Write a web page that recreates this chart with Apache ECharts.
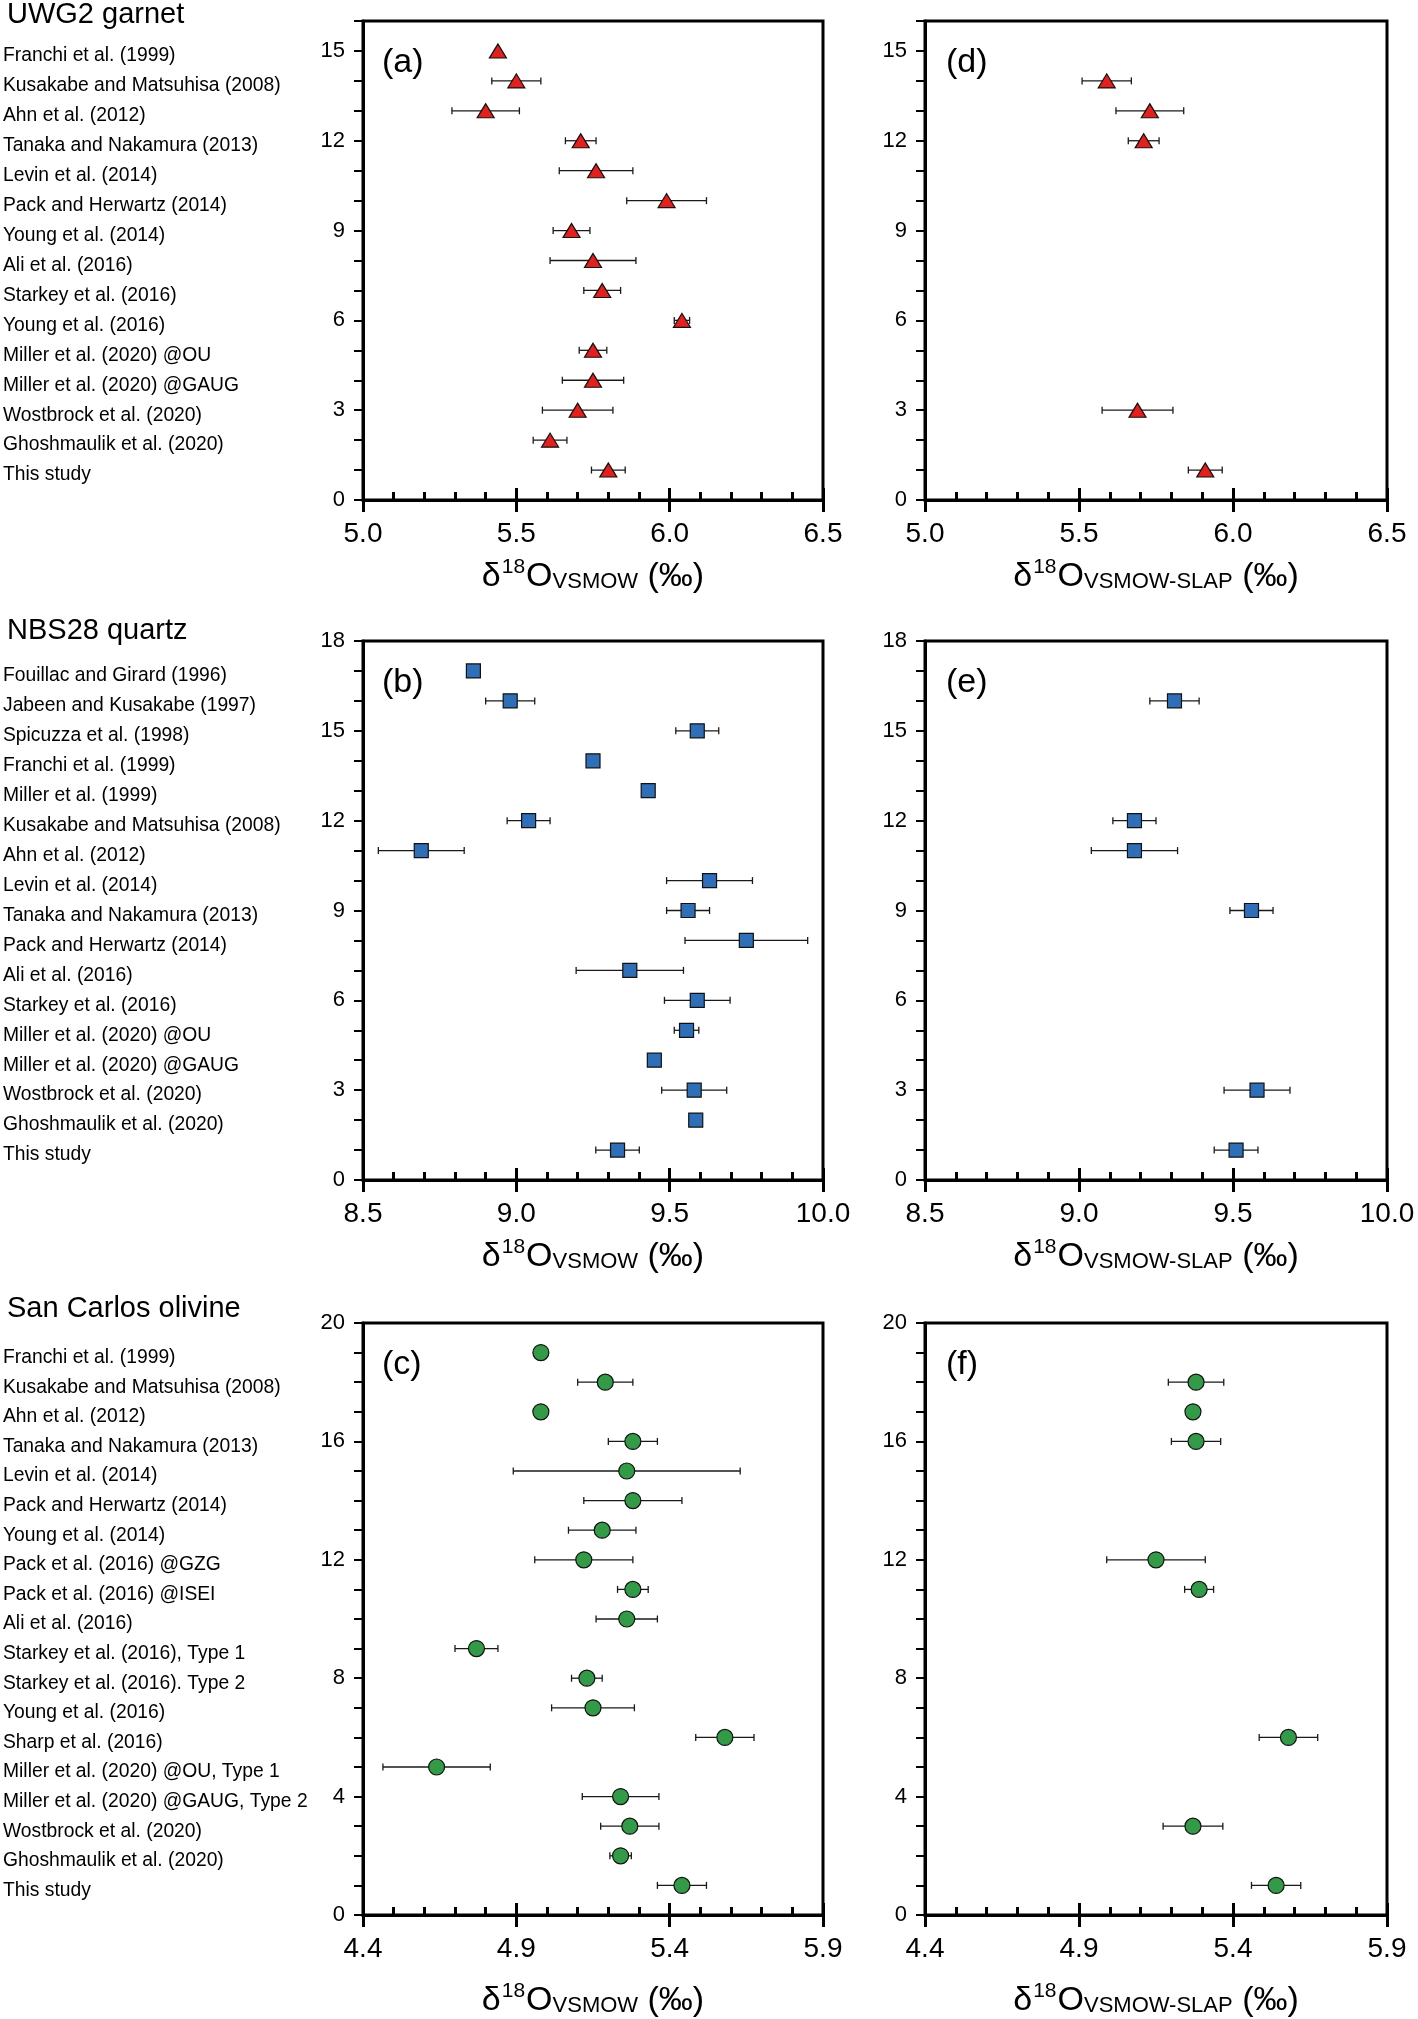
<!DOCTYPE html>
<html>
<head>
<meta charset="utf-8">
<script src="https://cdn.jsdelivr.net/npm/echarts@6/dist/echarts.min.js"></script>
<style>
html,body{margin:0;padding:0;background:#fff;}
#chart{width:1418px;height:2019px;}
</style>
</head>
<body>
<div id="chart"></div>
<script>
// ---------------- DATA ----------------
const garnetNames = [
  "Franchi et al. (1999)", "Kusakabe and Matsuhisa (2008)", "Ahn et al. (2012)",
  "Tanaka and Nakamura (2013)", "Levin et al. (2014)", "Pack and Herwartz (2014)",
  "Young et al. (2014)", "Ali et al. (2016)", "Starkey et al. (2016)", "Young et al. (2016)",
  "Miller et al. (2020) @OU", "Miller et al. (2020) @GAUG", "Wostbrock et al. (2020)",
  "Ghoshmaulik et al. (2020)", "This study"
];
const garnetVsmow    = [5.44, 5.50, 5.40, 5.71, 5.76, 5.99, 5.68, 5.75, 5.78, 6.04, 5.75, 5.75, 5.70, 5.61, 5.80];
const garnetVsmowErr = [0, 0.08, 0.11, 0.05, 0.12, 0.13, 0.06, 0.14, 0.06, 0.025, 0.045, 0.10, 0.115, 0.055, 0.055];
const garnetSlap     = [null, 5.59, 5.73, 5.71, null, null, null, null, null, null, null, null, 5.69, null, 5.91];
const garnetSlapErr  = [null, 0.08, 0.11, 0.05, null, null, null, null, null, null, null, null, 0.115, null, 0.055];

const quartzNames = [
  "Fouillac and Girard (1996)", "Jabeen and Kusakabe (1997)", "Spicuzza et al. (1998)",
  "Franchi et al. (1999)", "Miller et al. (1999)", "Kusakabe and Matsuhisa (2008)",
  "Ahn et al. (2012)", "Levin et al. (2014)", "Tanaka and Nakamura (2013)",
  "Pack and Herwartz (2014)", "Ali et al. (2016)", "Starkey et al. (2016)",
  "Miller et al. (2020) @OU", "Miller et al. (2020) @GAUG", "Wostbrock et al. (2020)",
  "Ghoshmaulik et al. (2020)", "This study"
];
const quartzVsmow    = [8.86, 8.98, 9.59, 9.25, 9.43, 9.04, 8.69, 9.63, 9.56, 9.75, 9.37, 9.59, 9.555, 9.45, 9.58, 9.585, 9.33];
const quartzVsmowErr = [0, 0.08, 0.07, 0, 0, 0.07, 0.14, 0.14, 0.07, 0.20, 0.175, 0.107, 0.04, 0, 0.106, 0, 0.071];
const quartzSlap     = [null, 9.31, null, null, null, 9.18, 9.18, null, 9.56, null, null, null, null, null, 9.578, null, 9.51];
const quartzSlapErr  = [null, 0.08, null, null, null, 0.07, 0.14, null, 0.07, null, null, null, null, null, 0.107, null, 0.071];

const olivineNames = [
  "Franchi et al. (1999)", "Kusakabe and Matsuhisa (2008)", "Ahn et al. (2012)",
  "Tanaka and Nakamura (2013)", "Levin et al. (2014)", "Pack and Herwartz (2014)",
  "Young et al. (2014)", "Pack et al. (2016) @GZG", "Pack et al. (2016) @ISEI",
  "Ali et al. (2016)", "Starkey et al. (2016), Type 1", "Starkey et al. (2016). Type 2",
  "Young et al. (2016)", "Sharp et al. (2016)", "Miller et al. (2020) @OU, Type 1",
  "Miller et al. (2020) @GAUG, Type 2", "Wostbrock et al. (2020)", "Ghoshmaulik et al. (2020)",
  "This study"
];
const olivineVsmow    = [4.98, 5.19, 4.98, 5.28, 5.26, 5.28, 5.18, 5.12, 5.28, 5.26, 4.77, 5.13, 5.15, 5.58, 4.64, 5.24, 5.27, 5.24, 5.44];
const olivineVsmowErr = [0, 0.09, 0, 0.08, 0.37, 0.16, 0.11, 0.16, 0.05, 0.10, 0.07, 0.05, 0.135, 0.095, 0.175, 0.125, 0.095, 0.035, 0.08];
const olivineSlap     = [null, 5.28, 5.27, 5.28, null, null, null, 5.15, 5.29, null, null, null, null, 5.58, null, null, 5.27, null, 5.54];
const olivineSlapErr  = [null, 0.09, 0, 0.08, null, null, null, 0.16, 0.047, null, null, null, null, 0.095, null, null, 0.097, null, 0.08];

const xTicksGarnet  = [5.0, 6.5];
const xTicksQuartz  = [8.5, 10.0];
const xTicksOlivine = [4.4, 5.9];

// ---------------- BUILD ----------------
const FONT = '"Liberation Sans", Arial, Helvetica, sans-serif';
const chart = echarts.init(document.getElementById('chart'), null, {renderer: 'canvas'});

const grids = [], xAxes = [], yAxes = [], series = [], titles = [];

function axisName(sub) {
  return '{a|δ}{s|18}{a|O}{b|' + sub + '}{a| (‰)}';
}
const nameRich = {
  a: {fontSize: 34, fontFamily: FONT, color: '#000'},
  s: {fontSize: 21, fontFamily: FONT, color: '#000', padding: [0, 1, 19, 1]},
  b: {fontSize: 22, fontFamily: FONT, color: '#000', padding: [9, 0, 0, 0]}
};

function addPanel(opt) {
  const gi = grids.length;
  grids.push({left: opt.left, top: opt.top, width: 462, height: opt.height,
    show: true, borderColor: '#000', borderWidth: 3, backgroundColor: 'transparent'});
  const xi = xAxes.length;
  xAxes.push({
    gridIndex: gi, type: 'value', position: 'bottom',
    min: opt.xr[0], max: opt.xr[1], interval: 0.5,
    axisLine: {show: true, onZero: false, lineStyle: {color: '#000', width: 3}},
    axisTick: {show: true, length: 12, lineStyle: {color: '#000', width: 3}},
    minorTick: {show: false},
    splitLine: {show: false},
    axisLabel: {fontSize: 28, fontFamily: FONT, color: '#000', margin: 20,
      formatter: v => v.toFixed(1)},
    name: axisName(opt.sub), nameLocation: 'middle', nameGap: opt.nameGap,
    nameTextStyle: {rich: nameRich}
  });
  xAxes.push({
    gridIndex: gi, type: 'value', position: 'bottom',
    min: opt.xr[0], max: opt.xr[1], interval: 0.5,
    axisLine: {show: false},
    axisTick: {show: true, inside: true, length: 12, lineStyle: {color: '#000', width: 3}},
    minorTick: {show: true, splitNumber: 5, length: 8, lineStyle: {color: '#000', width: 3}},
    splitLine: {show: false}, axisLabel: {show: false}
  });
  const yi = yAxes.length;
  yAxes.push({
    gridIndex: gi, type: 'value', position: 'left',
    min: 0, max: opt.yMax, interval: 1,
    axisLine: {show: true, onZero: false, lineStyle: {color: '#000', width: 3}},
    axisTick: {show: true, length: 9, lineStyle: {color: '#000', width: 2}},
    splitLine: {show: false},
    axisLabel: {fontSize: 22, fontFamily: FONT, color: '#000', margin: 18,
      formatter: v => (v % opt.yStep === 0 ? String(v) : '')}
  });
  if (opt.names) {
    const N = opt.names.length;
    yAxes.push({
      gridIndex: gi, type: 'value', position: 'left',
      min: 0, max: opt.yMax, interval: 1,
      axisLine: {show: false}, axisTick: {show: false}, splitLine: {show: false},
      axisLabel: {fontSize: 19.3, fontFamily: FONT, color: '#000', align: 'left',
        verticalAlign: 'top', lineHeight: 10,
        margin: opt.left - 1,
        formatter: v => (v >= 1 && v <= N ? opt.names[N - v] : '')}
    });
  }
  const N = opt.vals.length;
  const pts = [], bars = [];
  opt.vals.forEach((v, i) => {
    if (v == null) return;
    pts.push([v, N - i]);
    const e = opt.errs[i];
    if (e) bars.push([v, N - i, v - e, v + e]);
  });
  series.push({
    type: 'custom', xAxisIndex: xi, yAxisIndex: yi, z: 2,
    encode: {x: [0, 2, 3], y: 1},
    data: bars,
    renderItem: function (params, api) {
      const y = api.value(1);
      const p1 = api.coord([api.value(2), y]);
      const p2 = api.coord([api.value(3), y]);
      const h = 3.5;
      const st = {stroke: '#1a1a1a', lineWidth: 1.3};
      return {type: 'group', children: [
        {type: 'line', shape: {x1: p1[0], y1: p1[1], x2: p2[0], y2: p2[1]}, style: st},
        {type: 'line', shape: {x1: p1[0], y1: p1[1] - h, x2: p1[0], y2: p1[1] + h}, style: st},
        {type: 'line', shape: {x1: p2[0], y1: p2[1] - h, x2: p2[0], y2: p2[1] + h}, style: st}
      ]};
    }
  });
  series.push({
    type: 'scatter', xAxisIndex: xi, yAxisIndex: yi, z: 3,
    symbol: opt.symbol, symbolSize: opt.size,
    itemStyle: {color: opt.color, borderColor: '#111', borderWidth: 1.2, opacity: 1},
    data: pts
  });
  titles.push({text: opt.label, left: opt.left + 16, top: opt.top + 20,
    textStyle: {fontSize: 34, fontWeight: 'normal', fontFamily: FONT, color: '#000'}});
}

const colW = [361, 925];
const rowTop = [21, 641, 1323];
const rowH = [479, 539, 597];
const gaps = [57, 57, 66];

addPanel({left: colW[0], top: rowTop[0], height: rowH[0], nameGap: gaps[0], xr: xTicksGarnet, yMax: 16, yStep: 3,
  names: garnetNames, vals: garnetVsmow, errs: garnetVsmowErr, symbol: 'triangle', size: [17, 14],
  color: '#e3201e', label: '(a)', sub: 'VSMOW'});
addPanel({left: colW[1], top: rowTop[0], height: rowH[0], nameGap: gaps[0], xr: xTicksGarnet, yMax: 16, yStep: 3,
  vals: garnetSlap, errs: garnetSlapErr, symbol: 'triangle', size: [17, 14],
  color: '#e3201e', label: '(d)', sub: 'VSMOW-SLAP'});
addPanel({left: colW[0], top: rowTop[1], height: rowH[1], nameGap: gaps[1], xr: xTicksQuartz, yMax: 18, yStep: 3,
  names: quartzNames, vals: quartzVsmow, errs: quartzVsmowErr, symbol: 'rect', size: 14,
  color: '#2f6fb8', label: '(b)', sub: 'VSMOW'});
addPanel({left: colW[1], top: rowTop[1], height: rowH[1], nameGap: gaps[1], xr: xTicksQuartz, yMax: 18, yStep: 3,
  vals: quartzSlap, errs: quartzSlapErr, symbol: 'rect', size: 14,
  color: '#2f6fb8', label: '(e)', sub: 'VSMOW-SLAP'});
addPanel({left: colW[0], top: rowTop[2], height: rowH[2], nameGap: gaps[2], xr: xTicksOlivine, yMax: 20, yStep: 4,
  names: olivineNames, vals: olivineVsmow, errs: olivineVsmowErr, symbol: 'circle', size: 16,
  color: '#339a47', label: '(c)', sub: 'VSMOW'});
addPanel({left: colW[1], top: rowTop[2], height: rowH[2], nameGap: gaps[2], xr: xTicksOlivine, yMax: 20, yStep: 4,
  vals: olivineSlap, errs: olivineSlapErr, symbol: 'circle', size: 16,
  color: '#339a47', label: '(f)', sub: 'VSMOW-SLAP'});

const headStyle = {fontSize: 29, fontWeight: 'normal', fontFamily: FONT, color: '#000'};
titles.push({text: 'UWG2 garnet', left: 2, top: -5, textStyle: headStyle});
titles.push({text: 'NBS28 quartz', left: 2, top: 611, textStyle: headStyle});
titles.push({text: 'San Carlos olivine', left: 2, top: 1289, textStyle: headStyle});

chart.setOption({
  animation: false,
  backgroundColor: '#fff',
  title: titles,
  grid: grids,
  xAxis: xAxes,
  yAxis: yAxes,
  series: series
});
</script>
</body>
</html>
